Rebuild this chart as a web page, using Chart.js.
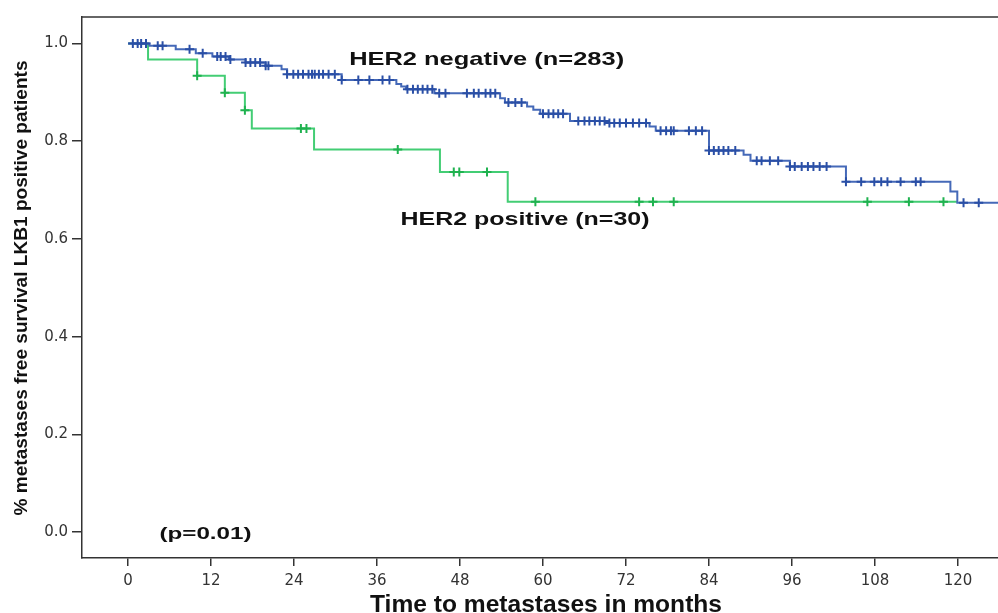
<!DOCTYPE html>
<html>
<head>
<meta charset="utf-8">
<script src="https://cdn.jsdelivr.net/npm/chart.js@4"></script>
<style>
  html, body { margin: 0; padding: 0; background: #fff; overflow: hidden; }
  #wrap { width: 1006px; height: 613px; position: relative; }
</style>
</head>
<body>
<div id="wrap"><canvas id="km"></canvas></div>
<script>
// HER2 negative (n=283): event times (months) and survival after each step
const negTimes = [0, 3.1, 6.9, 9.8, 12.2, 14.6, 17.0, 19.9, 22.2, 23.0, 30.9, 38.8, 39.5, 40.2, 44.3,
  53.8, 54.5, 57.7, 58.6, 59.6, 63.9, 69.1, 75.4, 76.3, 84.0, 89.0, 90.0, 95.7, 103.8, 118.9, 119.9, 126];
const negSurv = [1.0, 0.995, 0.988, 0.980, 0.973, 0.967, 0.961, 0.954, 0.947, 0.937, 0.925, 0.917, 0.912, 0.906, 0.898,
  0.888, 0.879, 0.871, 0.864, 0.856, 0.841, 0.837, 0.830, 0.821, 0.781, 0.772, 0.760, 0.748, 0.717, 0.697, 0.674, 0.674];
const negCensor = [0.7, 1.4, 1.9, 2.6, 4.3, 5.0, 8.9, 10.8, 12.9, 13.4, 14.1, 14.8, 17.0, 17.7, 18.4, 19.1, 19.9, 20.3,
  23.0, 23.9, 24.6, 25.3, 26.1, 26.6, 27.0, 27.6, 28.2, 29.0, 29.9, 30.9, 33.3, 34.9, 36.8, 37.8, 40.4, 41.2, 41.9,
  42.6, 43.3, 44.0, 45.0, 45.9, 49.0, 50.0, 50.7, 51.7, 52.4, 53.1, 55.0, 56.0, 56.9, 60.0, 60.8, 61.5, 62.2, 62.9,
  65.1, 66.0, 66.7, 67.5, 68.2, 68.9, 69.6, 70.3, 71.1, 72.0, 73.0, 73.9, 74.9, 77.0, 77.8, 78.5, 78.9, 81.1, 82.1,
  83.0, 84.0, 84.7, 85.4, 86.1, 86.8, 87.8, 90.9, 91.6, 92.8, 94.0, 95.7, 96.4, 97.4, 98.3, 99.1, 100.0, 101.0,
  103.8, 106.0, 107.9, 108.9, 109.8, 111.7, 113.9, 114.6, 120.8, 123.0];

// HER2 positive (n=30)
const posTimes = [0, 2.9, 10.0, 14.0, 16.9, 17.9, 26.9, 45.1, 54.9, 119.9];
const posSurv = [1.0, 0.967, 0.934, 0.899, 0.863, 0.826, 0.783, 0.737, 0.676, 0.676];
const posCensor = [10.0, 14.0, 16.9, 25.0, 25.8, 39.0, 47.1, 47.9, 51.9, 58.9, 73.9, 75.9, 78.9, 106.9, 112.9, 117.9];

const xTicks = [0, 12, 24, 36, 48, 60, 72, 84, 96, 108, 120];
const yTicks = [0, 0.2, 0.4, 0.6, 0.8, 1.0];

const xTitle = "Time to metastases in months";
const yTitle = "% metastases free survival LKB1 positive patients";
const notes = [
  { text: "HER2 negative (n=283)", x: 51.85, y: 0.966, size: 19, width: 275 },
  { text: "HER2 positive (n=30)", x: 57.4, y: 0.639, size: 19, width: 249 },
  { text: "(p=0.01)", x: 11.2, y: -0.006, size: 16, width: 92 }
];

// survival value at time t (value after any step at t)
function survAt(times, surv, t) {
  let v = surv[0];
  for (let i = 0; i < times.length; i++) {
    if (times[i] <= t + 1e-9) v = surv[i];
  }
  return v;
}

const toPoints = (times, surv) => times.map((t, i) => ({ x: t, y: surv[i] }));
const censorPoints = (times, surv, cens) => cens.map(t => ({ x: t, y: survAt(times, surv, t) }));

function stretchText(ctx, text, cx, cy, size, width, angle) {
  ctx.save();
  ctx.font = "bold " + size + "px 'Liberation Sans', Arial, sans-serif";
  const sx = width / ctx.measureText(text).width;
  ctx.translate(cx, cy);
  if (angle) ctx.rotate(angle);
  ctx.scale(sx, 1);
  ctx.textAlign = "center";
  ctx.textBaseline = "middle";
  ctx.fillStyle = "#111";
  ctx.fillText(text, 0, 0);
  ctx.restore();
}

const textPlugin = {
  id: "kmText",
  afterDraw(chart) {
    const { ctx, chartArea, scales } = chart;
    // top of the frame
    ctx.save();
    ctx.strokeStyle = "#333";
    ctx.lineWidth = 1.5;
    ctx.beginPath();
    ctx.moveTo(chartArea.left, chartArea.top);
    ctx.lineTo(chartArea.right, chartArea.top);
    ctx.stroke();
    ctx.restore();

    notes.forEach(n => {
      stretchText(ctx, n.text, scales.x.getPixelForValue(n.x), scales.y.getPixelForValue(n.y), n.size, n.width);
    });
    stretchText(ctx, xTitle, 546, 605, 24, 352);
    stretchText(ctx, yTitle, 22, 288, 19, 455, -Math.PI / 2);
  }
};

const tickFont = { family: "'DejaVu Sans', sans-serif", size: 15 };

new Chart(document.getElementById("km"), {
  type: "line",
  data: {
    datasets: [
      {
        type: "scatter",
        data: censorPoints(negTimes, negSurv, negCensor),
        pointStyle: "cross",
        pointRadius: 4.5,
        borderWidth: 2,
        borderColor: "#2a4fa6",
        order: 1
      },
      {
        data: toPoints(negTimes, negSurv),
        stepped: true,
        borderColor: "#4569b8",
        borderWidth: 2,
        pointRadius: 0,
        fill: false,
        order: 2
      },
      {
        type: "scatter",
        data: censorPoints(posTimes, posSurv, posCensor),
        pointStyle: "cross",
        pointRadius: 4.5,
        borderWidth: 2,
        borderColor: "#1fb24f",
        order: 3
      },
      {
        data: toPoints(posTimes, posSurv),
        stepped: true,
        borderColor: "#43cd74",
        borderWidth: 2,
        pointRadius: 0,
        fill: false,
        order: 4
      }
    ]
  },
  options: {
    responsive: true,
    maintainAspectRatio: false,
    animation: false,
    layout: { padding: { top: 17, left: 0, right: 0, bottom: 0 } },
    plugins: { legend: { display: false }, tooltip: { enabled: false } },
    scales: {
      x: {
        type: "linear",
        min: -6.65,
        max: 126,
        afterBuildTicks: (scale) => { scale.ticks = xTicks.map(v => ({ value: v })); },
        afterFit: (scale) => { scale.height = 55; },
        border: { display: true, color: "#333", width: 1.5 },
        grid: { drawOnChartArea: false, drawTicks: true, tickLength: 8, color: "#333", lineWidth: 1.5 },
        ticks: { font: tickFont, color: "#333", padding: 6, maxRotation: 0, autoSkip: false }
      },
      y: {
        type: "linear",
        min: -0.053,
        max: 1.054,
        afterBuildTicks: (scale) => { scale.ticks = yTicks.map(v => ({ value: v })); },
        afterFit: (scale) => { scale.width = 82; },
        border: { display: true, color: "#333", width: 1.5 },
        grid: { drawOnChartArea: false, drawTicks: true, tickLength: 10, color: "#333", lineWidth: 1.5 },
        ticks: { font: tickFont, color: "#333", padding: 4, callback: (v) => v.toFixed(1) }
      }
    }
  },
  plugins: [textPlugin]
});
</script>
</body>
</html>
